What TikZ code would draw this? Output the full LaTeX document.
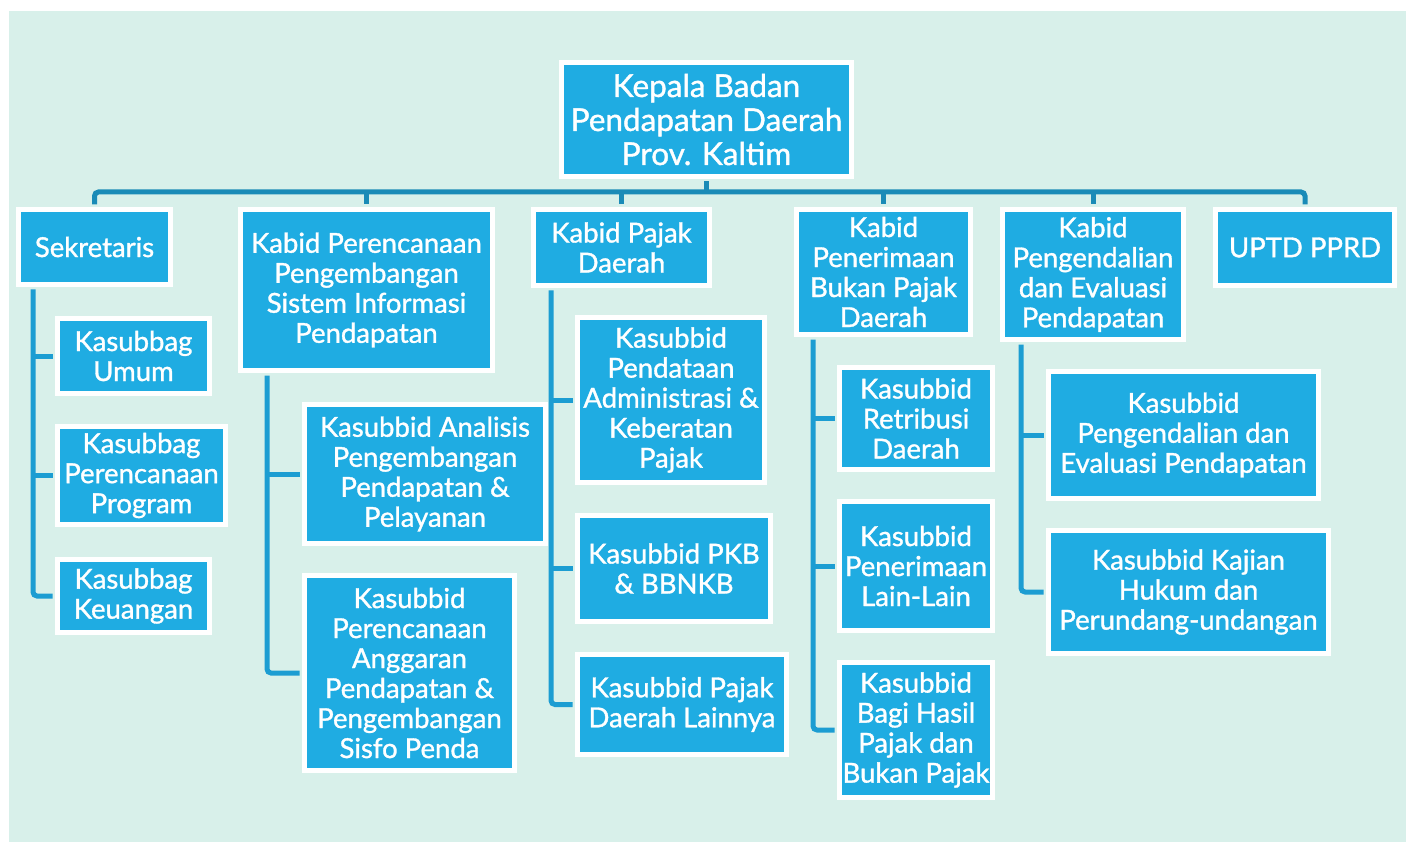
\documentclass[tikz,border=0pt]{standalone}
\usepackage{fontspec}
\setmainfont{Lato}
\newfontfamily\unitfont{Lato}[FakeBold=1.2]
\definecolor{mint}{HTML}{D8F0EA}
\definecolor{boxblue}{HTML}{1FACE2}
\definecolor{busblue}{HTML}{1A8BB7}
\definecolor{linkblue}{HTML}{1C9DD2}
\tikzset{
  unit/.style={fill=boxblue, draw=white, line width=5pt, text=white, align=center,
    inner sep=0pt, font=\unitfont\fontsize{27.5}{30}\selectfont},
  bus/.style={draw=busblue, line width=5pt, rounded corners=4pt},
  link/.style={draw=linkblue, line width=5pt, rounded corners=4pt, shorten >=2.5pt},
}
\begin{document}
\begin{tikzpicture}[x=1pt, y=-1pt]
  \useasboundingbox (0,0) rectangle (1411,842);
  \fill[mint] (9,11) rectangle (1406,842);
  % head
  \node[unit, minimum width=290, minimum height=114, font=\unitfont\fontsize{31.5}{34}\selectfont]
    (kepala) at (706.5,119.5) {Kepala Badan\\Pendapatan Daerah\\Prov. Kaltim};
  % second row
  \node[unit, minimum width=152, minimum height=75] (sek) at (94.5,247) {Sekretaris};
  \node[unit, minimum width=252, minimum height=161] (kpren) at (366.5,290)
    {Kabid Perencanaan\\Pengembangan\\Sistem Informasi\\Pendapatan};
  \node[unit, minimum width=176, minimum height=76] (kpajak) at (621.5,247.5)
    {Kabid Pajak\\Daerah};
  \node[unit, minimum width=174, minimum height=125] (kpener) at (883.5,272)
    {Kabid\\Penerimaan\\Bukan Pajak\\Daerah};
  \node[unit, minimum width=181, minimum height=130] (kpeng) at (1093,274.5)
    {Kabid\\Pengendalian\\dan Evaluasi\\Pendapatan};
  \node[unit, minimum width=179, minimum height=76] (uptd) at (1305,247.5) {UPTD PPRD};
  % under Sekretaris
  \node[unit, minimum width=152, minimum height=75] (umum) at (133.5,356) {Kasubbag\\Umum};
  \node[unit, minimum width=168, minimum height=98] (prog) at (141.5,475.5)
    {Kasubbag\\Perencanaan\\Program};
  \node[unit, minimum width=152, minimum height=73] (keu) at (133.5,596) {Kasubbag\\Keuangan};
  % under Kabid Perencanaan
  \node[unit, minimum width=241, minimum height=139] (analisis) at (425,474)
    {Kasubbid Analisis\\Pengembangan\\Pendapatan \&\\Pelayanan};
  \node[unit, minimum width=210, minimum height=195] (anggaran) at (409.5,673)
    {Kasubbid\\Perencanaan\\Anggaran\\Pendapatan \&\\Pengembangan\\Sisfo Penda};
  % under Kabid Pajak
  \node[unit, minimum width=187, minimum height=165] (pendataan) at (671,400)
    {Kasubbid\\Pendataan\\Administrasi \&\\Keberatan\\Pajak};
  \node[unit, minimum width=193, minimum height=106] (pkb) at (674,568.5)
    {Kasubbid PKB\\\& BBNKB};
  \node[unit, minimum width=209, minimum height=100] (lainnya) at (682,704.5)
    {Kasubbid Pajak\\Daerah Lainnya};
  % under Kabid Penerimaan
  \node[unit, minimum width=153, minimum height=102] (retribusi) at (916,418.5)
    {Kasubbid\\Retribusi\\Daerah};
  \node[unit, minimum width=153, minimum height=129] (lainlain) at (916,566)
    {Kasubbid\\Penerimaan\\Lain-Lain};
  \node[unit, minimum width=153, minimum height=135] (bagi) at (916,730)
    {Kasubbid\\Bagi Hasil\\Pajak dan\\Bukan Pajak};
  % under Kabid Pengendalian
  \node[unit, minimum width=270, minimum height=127] (evaluasi) at (1183.5,435)
    {Kasubbid\\Pengendalian dan\\Evaluasi Pendapatan};
  \node[unit, minimum width=280, minimum height=123] (kajian) at (1188.5,592)
    {Kasubbid Kajian\\Hukum dan\\Perundang-undangan};
  % top bus
  \coordinate (bus) at (0,192);
  \draw[bus, shorten <=2.5pt, shorten >=2.5pt] (sek.north) -- (sek.north |- bus)
    -- (uptd.north |- bus) -- (uptd.north);
  \draw[bus, shorten <=2.5pt] (kepala.south) -- (kepala.south |- bus);
  \foreach \n in {kpren,kpajak,kpener,kpeng}
    \draw[bus, shorten >=2.5pt] (\n.north |- bus) -- (\n.north);
  % branch lines
  \coordinate (sekT) at (33,289.5);
  \coordinate (kprenT) at (267,375.5);
  \coordinate (kpajakT) at (551,290.5);
  \coordinate (kpenerT) at (813,339.5);
  \coordinate (kpengT) at (1021,344.5);
  \draw[link] (sekT) |- (keu.west);
  \foreach \c in {umum,prog} \draw[link] (sekT |- \c.west) -- (\c.west);
  \draw[link] (kprenT) |- (anggaran.west);
  \draw[link] (kprenT |- analisis.west) -- (analisis.west);
  \draw[link] (kpajakT) |- (lainnya.west);
  \foreach \c in {pendataan,pkb} \draw[link] (kpajakT |- \c.west) -- (\c.west);
  \draw[link] (kpenerT) |- (bagi.west);
  \foreach \c in {retribusi,lainlain} \draw[link] (kpenerT |- \c.west) -- (\c.west);
  \draw[link] (kpengT) |- (kajian.west);
  \draw[link] (kpengT |- evaluasi.west) -- (evaluasi.west);
\end{tikzpicture}
\end{document}
